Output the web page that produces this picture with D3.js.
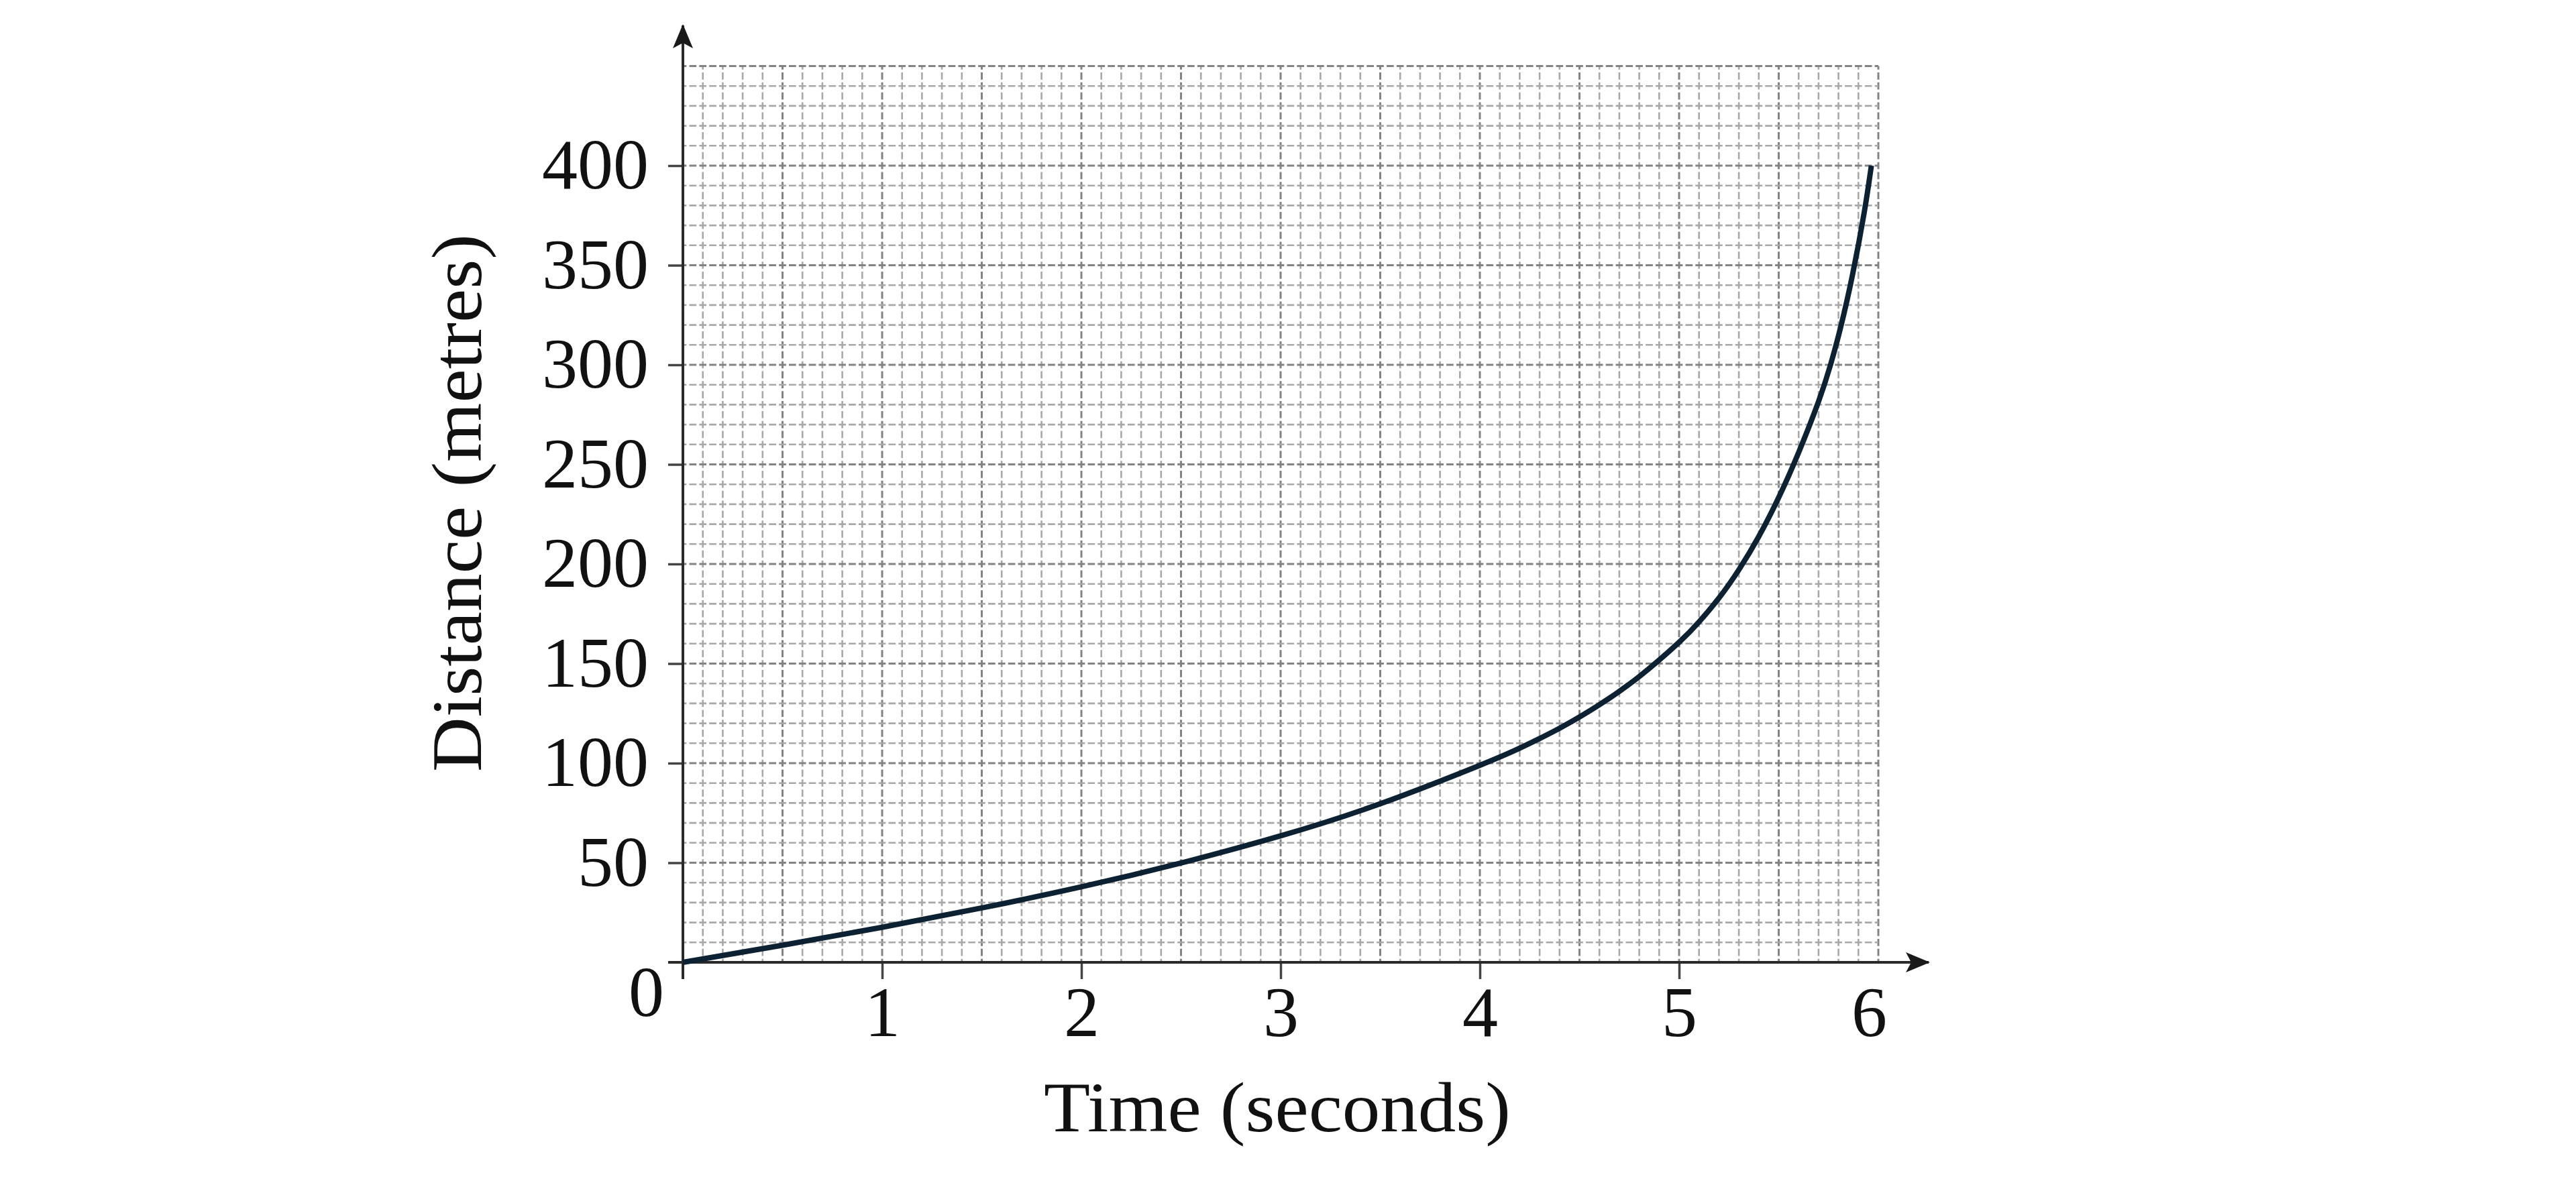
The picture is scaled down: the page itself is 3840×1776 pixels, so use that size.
<!DOCTYPE html>
<html>
<head>
<meta charset="utf-8">
<script src="https://cdn.jsdelivr.net/npm/d3@7/dist/d3.min.js"></script>
<style>
  html, body { margin: 0; padding: 0; background: #ffffff; }
  svg { display: block; }
  text { font-family: "Liberation Serif", "DejaVu Serif", serif; fill: #111; }
</style>
</head>
<body>
<svg id="chart" width="3840" height="1776"></svg>
<script>
// ---- data ----
const times     = [0, 0.5, 1, 1.5, 2, 2.5, 3, 3.5, 4, 4.2, 4.4, 4.6, 4.8, 5, 5.1, 5.2, 5.3, 5.4, 5.5, 5.6, 5.7, 5.76, 5.81, 5.87, 5.93, 5.965];
const distances = [0, 8.6, 17.6, 27.3, 37.9, 49.9, 63.5, 79.6, 98.9, 107.5, 117.5, 129.3, 143.5, 160.7, 170.9, 182.9, 197.1, 213.8, 233.4, 256, 281.6, 300, 318.5, 345, 377, 400];
const xTickValues = [1, 2, 3, 4, 5, 6];
const yTickValues = [50, 100, 150, 200, 250, 300, 350, 400];
const xTitle = "Time (seconds)";
const yTitle = "Distance (metres)";
const originLabel = "0";

// ---- layout ----
const X0 = 1018, X1 = 2800, Y0 = 1435, Y1 = 98.5;
const xMax = 6, yMax = 450;
const FONT = 106;

const svg = d3.select("#chart");
const x = d3.scaleLinear().domain([0, xMax]).range([X0, X1]);
const y = d3.scaleLinear().domain([0, yMax]).range([Y0, Y1]);

// ---- graph-paper grid ----
const cell = x(0.1) - x(0);
const grid = svg.append("g").attr("class", "grid");
const minorX = d3.range(0, 61).map(i => i / 10);
const minorY = d3.range(0, 46).map(i => i * 10);

grid.selectAll("line.vx").data(minorX).join("line")
  .attr("x1", d => x(d)).attr("x2", d => x(d))
  .attr("y1", y(0)).attr("y2", y(yMax))
  .attr("stroke", (d, i) => i % 5 === 0 ? "#838383" : "#a8a8a8")
  .attr("stroke-width", (d, i) => i % 5 === 0 ? 3 : 2.6)
  .attr("stroke-dasharray", `${cell * 0.36} ${cell * 0.14}`)
  .attr("stroke-dashoffset", cell * 0.18);

grid.selectAll("line.hy").data(minorY).join("line")
  .attr("y1", d => y(d)).attr("y2", d => y(d))
  .attr("x1", x(0)).attr("x2", x(xMax))
  .attr("stroke", (d, i) => i % 5 === 0 ? "#838383" : "#a8a8a8")
  .attr("stroke-width", (d, i) => i % 5 === 0 ? 3 : 2.6)
  .attr("stroke-dasharray", `${cell * 0.36} ${cell * 0.14}`)
  .attr("stroke-dashoffset", cell * 0.18);

// ---- axes with ticks & labels ----
const yAxis = d3.axisLeft(y).tickValues(yTickValues).tickSize(22).tickPadding(29).tickFormat(d3.format("d"));
const gy = svg.append("g").attr("transform", `translate(${X0},0)`).call(yAxis);
gy.select(".domain").remove();
gy.selectAll(".tick line").attr("stroke", "#444").attr("stroke-width", 3.5);
gy.selectAll(".tick text").attr("font-size", FONT).attr("font-family", "Liberation Serif").attr("fill", "#111");

const xAxis = d3.axisBottom(x).tickValues(xTickValues).tickSize(25).tickPadding(10).tickFormat(d3.format("d"));
const gx = svg.append("g").attr("transform", `translate(0,${Y0})`).call(xAxis);
gx.select(".domain").remove();
gx.selectAll(".tick line").attr("stroke", "#444").attr("stroke-width", 3.5)
  .attr("opacity", d => d === xMax ? 0 : 1);
gx.selectAll(".tick text").attr("font-size", FONT).attr("font-family", "Liberation Serif").attr("fill", "#111")
  .attr("dx", d => d === xMax ? -14 : 0);

// arrow marker
const defs = svg.append("defs");
defs.append("marker").attr("id", "arrow")
  .attr("markerUnits", "userSpaceOnUse")
  .attr("viewBox", "0 -16 36 32").attr("refX", 34).attr("refY", 0)
  .attr("markerWidth", 36).attr("markerHeight", 32).attr("orient", "auto")
  .append("path").attr("d", "M0,-15 L36,0 L0,15 L8,0 Z").attr("fill", "#1a1a1a");

// x axis line
svg.append("line")
  .attr("x1", X0 - 22).attr("x2", 2875).attr("y1", Y0).attr("y2", Y0)
  .attr("stroke", "#2a2a2a").attr("stroke-width", 4).attr("marker-end", "url(#arrow)");
// y axis line
svg.append("line")
  .attr("x1", X0).attr("x2", X0).attr("y1", Y0 + 25).attr("y2", 38)
  .attr("stroke", "#2a2a2a").attr("stroke-width", 4).attr("marker-end", "url(#arrow)");

// origin label
svg.append("text").attr("x", 990).attr("y", 1515).attr("text-anchor", "end")
  .attr("font-size", FONT).text(originLabel);

// ---- curve ----
const pts = times.map((t, i) => [t, distances[i]]);
const line = d3.line().x(d => x(d[0])).y(d => y(d[1])).curve(d3.curveNatural);
svg.append("path").datum(pts).attr("d", line)
  .attr("fill", "none").attr("stroke", "#0c2233").attr("stroke-width", 8)
  .attr("stroke-linecap", "butt").attr("stroke-linejoin", "round");

// ---- titles ----
svg.append("text").attr("x", 1904).attr("y", 1687).attr("text-anchor", "middle")
  .attr("font-size", FONT).attr("textLength", 696).attr("lengthAdjust", "spacingAndGlyphs")
  .text(xTitle);

svg.append("text").attr("transform", "translate(717,750) rotate(-90)")
  .attr("text-anchor", "middle").attr("font-size", FONT)
  .attr("textLength", 802).attr("lengthAdjust", "spacingAndGlyphs")
  .text(yTitle);
</script>
</body>
</html>
